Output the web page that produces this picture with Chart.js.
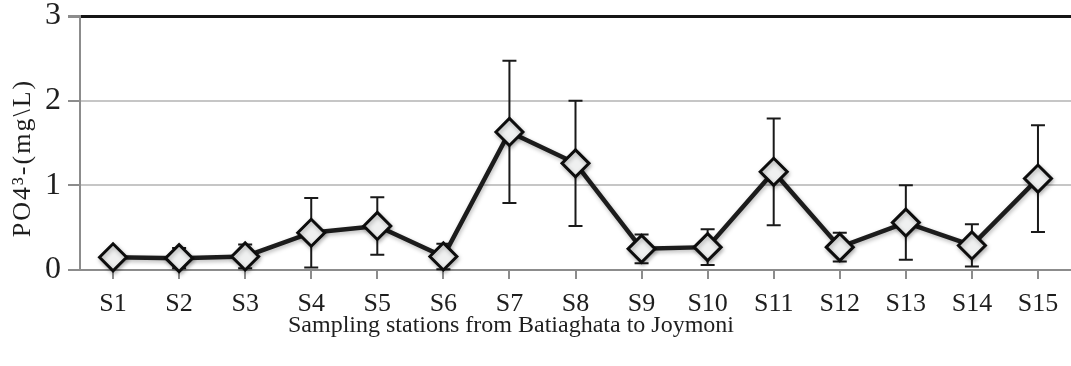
<!DOCTYPE html>
<html>
<head>
<meta charset="utf-8">
<script src="https://cdn.jsdelivr.net/npm/chart.js@4.4.1/dist/chart.umd.min.js"></script>
<style>
  html, body { margin: 0; padding: 0; background: #ffffff; overflow: hidden; }
  #wrap { width: 1071px; height: 366px; position: relative; }
  #chart { display: block; }
</style>
</head>
<body>
<div id="wrap"><canvas id="chart"></canvas></div>
<script>
// Sampling stations along the river
const stations = ['S1','S2','S3','S4','S5','S6','S7','S8','S9','S10','S11','S12','S13','S14','S15'];
// Mean phosphate concentration (mg/L) at each station
const phosphateMean = [0.15, 0.14, 0.16, 0.44, 0.52, 0.16, 1.63, 1.26, 0.25, 0.27, 1.16, 0.27, 0.56, 0.29, 1.08];
// Standard deviation for the error bars
const phosphateSD = [0.08, 0.12, 0.14, 0.41, 0.34, 0.15, 0.84, 0.74, 0.17, 0.21, 0.63, 0.17, 0.44, 0.25, 0.63];
// Value-axis ticks
const yTicks = [0, 1, 2, 3];

const xTitle = 'Sampling stations from Batiaghata to Joymoni';
const yTitle = 'PO4\u00B3-(mg\\L)';

const SERIF = '"Liberation Serif", "Times New Roman", serif';
const TEXT = '#1e1e1e';
const AXIS_GRAY = '#8c8c8c';

// Vertical mean ± SD whiskers with caps, drawn under the line and markers
const errorBars = {
  id: 'errorBars',
  beforeDatasetsDraw(chart) {
    const { ctx, scales: { x, y } } = chart;
    ctx.save();
    ctx.strokeStyle = '#1a1a1a';
    ctx.lineWidth = 2;
    const cap = 7;
    phosphateMean.forEach((m, i) => {
      const px = x.getPixelForValue(i);
      const hi = y.getPixelForValue(m + phosphateSD[i]);
      const lo = y.getPixelForValue(Math.max(0, m - phosphateSD[i]));
      ctx.beginPath();
      ctx.moveTo(px, hi); ctx.lineTo(px, lo);
      ctx.moveTo(px - cap, hi); ctx.lineTo(px + cap, hi);
      ctx.moveTo(px - cap, lo); ctx.lineTo(px + cap, lo);
      ctx.stroke();
    });
    ctx.restore();
  }
};

// Soft drop shadow under the series
const seriesShadow = {
  id: 'seriesShadow',
  beforeDatasetDraw(chart) {
    const ctx = chart.ctx;
    ctx.save();
    ctx.shadowColor = 'rgba(0,0,0,0.28)';
    ctx.shadowBlur = 4;
    ctx.shadowOffsetX = 1;
    ctx.shadowOffsetY = 2;
  },
  afterDatasetDraw(chart) {
    chart.ctx.restore();
  }
};

// Axis titles
const axisTitles = {
  id: 'axisTitles',
  afterDraw(chart) {
    const ctx = chart.ctx;
    ctx.save();
    ctx.fillStyle = TEXT;
    ctx.font = '24px ' + SERIF;
    ctx.textAlign = 'center';
    ctx.textBaseline = 'middle';
    ctx.fillText(xTitle, 511, 326);
    ctx.font = '26px ' + SERIF;
    ctx.translate(23, 159);
    ctx.rotate(-Math.PI / 2);
    ctx.letterSpacing = '2px';
    ctx.fillText(yTitle, 1, 0);
    ctx.restore();
  }
};

new Chart(document.getElementById('chart'), {
  type: 'line',
  data: {
    labels: stations,
    datasets: [{
      data: phosphateMean,
      borderColor: '#1c1c1c',
      borderWidth: 4.5,
      tension: 0,
      fill: false,
      clip: false,
      pointStyle: 'rectRot',
      pointRadius: 13.5,
      pointHoverRadius: 13.5,
      pointBorderWidth: 3,
      pointBackgroundColor: '#eff0f0',
      pointBorderColor: '#0d0d0d'
    }]
  },
  options: {
    responsive: true,
    maintainAspectRatio: false,
    animation: false,
    events: [],
    layout: { autoPadding: false, padding: { top: 16, right: 0, bottom: 0, left: 0 } },
    plugins: {
      legend: { display: false },
      tooltip: { enabled: false },
      title: { display: false }
    },
    scales: {
      x: {
        offset: true,
        grid: {
          drawOnChartArea: false,
          drawTicks: true,
          tickLength: 9,
          tickColor: AXIS_GRAY,
          lineWidth: 2
        },
        border: { color: AXIS_GRAY, width: 2 },
        ticks: {
          font: { family: SERIF, size: 26 },
          color: TEXT,
          padding: 10,
          maxRotation: 0,
          autoSkip: false
        },
        afterFit(scale) {
          scale.height = 96;
          scale.paddingLeft = 0;
          scale.paddingRight = 0;
        }
      },
      y: {
        min: 0,
        max: 3,
        afterBuildTicks(scale) { scale.ticks = yTicks.map(v => ({ value: v })); },
        grid: {
          color: c => c.tick.value === 3 ? '#151515' : (c.tick.value === 0 ? AXIS_GRAY : '#c6c6c6'),
          lineWidth: c => c.tick.value === 3 ? 3 : 2,
          tickColor: AXIS_GRAY,
          tickLength: 12
        },
        border: { color: AXIS_GRAY, width: 2 },
        ticks: {
          font: { family: SERIF, size: 32 },
          color: TEXT,
          padding: 7
        },
        afterFit(scale) {
          scale.width = 80;
          scale.paddingTop = 0;
          scale.paddingBottom = 0;
        }
      }
    }
  },
  plugins: [errorBars, seriesShadow, axisTitles]
});
</script>
</body>
</html>
